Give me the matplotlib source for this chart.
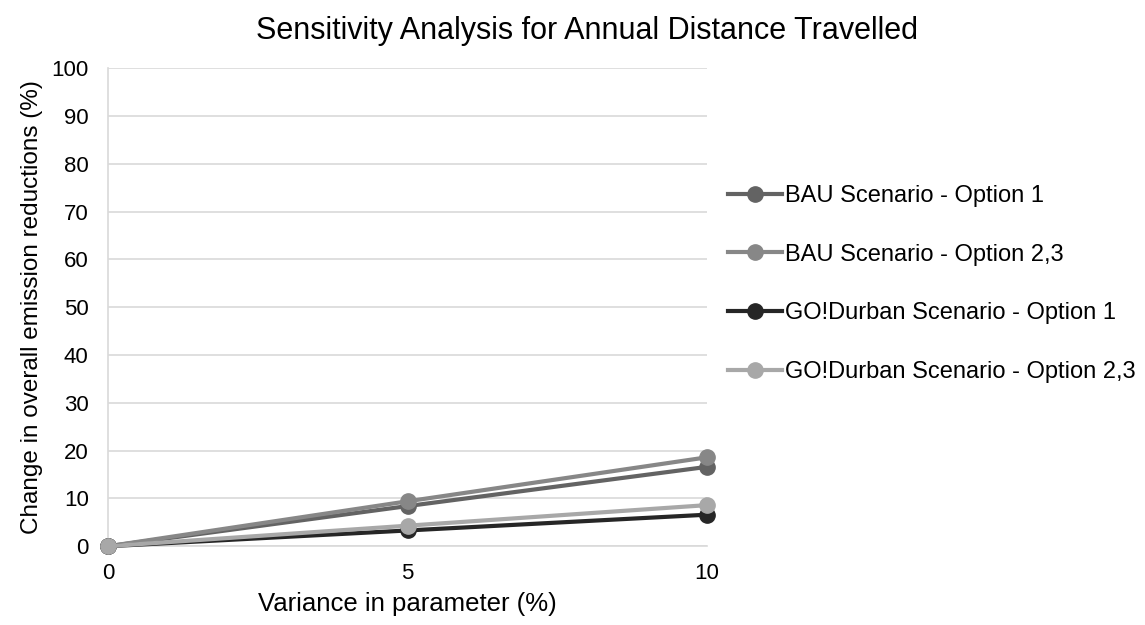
import matplotlib.pyplot as plt
import numpy as np

plt.rcParams['font.family'] = ['Liberation Sans', 'DejaVu Sans']

# data
variance = [0, 5, 10]
series_names = ['BAU Scenario - Option 1', 'BAU Scenario - Option 2,3',
                'GO!Durban Scenario - Option 1', 'GO!Durban Scenario - Option 2,3']
bau_opt1 = [0, 8.4, 16.6]
bau_opt23 = [0, 9.4, 18.6]
go_opt1 = [0, 3.3, 6.6]
go_opt23 = [0, 4.3, 8.6]

colors = ['#636363', '#878787', '#262626', '#a8a8a8']

fig = plt.figure(figsize=(11.45, 6.25), dpi=100)
ax = fig.add_axes([0.0944, 0.126, 0.523, 0.765])

for vals, name, c in zip([bau_opt1, bau_opt23, go_opt1, go_opt23], series_names, colors):
    ax.plot(variance, vals, marker='o', markersize=11, linewidth=3, color=c,
            label=name, clip_on=False, zorder=3)

ax.set_xlim(0, 10)
ax.set_ylim(0, 100)
ax.set_xticks([0, 5, 10])
ax.set_yticks(np.arange(0, 101, 10))
ax.tick_params(axis='both', length=0, labelsize=16)
ax.tick_params(axis='x', pad=12)
ax.tick_params(axis='y', pad=14)
ax.yaxis.grid(True, color='#d9d9d9', linewidth=1.2)
ax.set_axisbelow(True)
for side in ['top', 'right']:
    ax.spines[side].set_visible(False)
ax.spines['left'].set_color('#d9d9d9')
ax.spines['bottom'].set_color('#d9d9d9')
ax.spines['left'].set_linewidth(1.2)
ax.spines['bottom'].set_linewidth(1.2)

ax.set_xlabel('Variance in parameter (%)', fontsize=18.5, labelpad=6)
ax.set_ylabel('Change in overall emission reductions (%)', fontsize=17.5, labelpad=6)
fig.suptitle('Sensitivity Analysis for Annual Distance Travelled', fontsize=22,
             x=0.513, y=0.975)

ax.legend(loc='upper left', bbox_to_anchor=(1.0, 0.8), frameon=False,
          fontsize=17, labelspacing=1.55, handlelength=2.3, handletextpad=0.1,
          borderaxespad=0.5)

plt.savefig('out.png', dpi=100)
